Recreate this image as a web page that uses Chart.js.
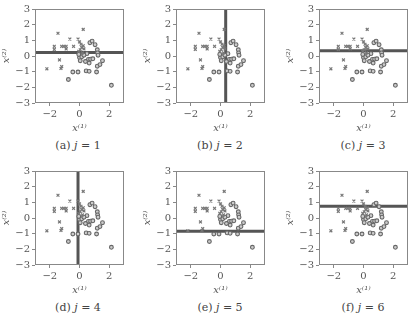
<!DOCTYPE html>
<html>
<head>
<meta charset="utf-8">
<script src="https://cdn.jsdelivr.net/npm/chart.js@4"></script>
<style>
  body { margin: 0; background: #fff; }
  #wrap { position: relative; width: 416px; height: 318px; overflow: hidden; }
  canvas { position: absolute; }
  .cap {
    position: absolute; width: 120px; margin-left: -60px; text-align: center;
    font: 11px "DejaVu Serif", serif; color: #444; line-height: 14px;
  }
</style>
</head>
<body>
<div id="wrap"></div>
<script>
// class "x" samples (crosses)
const crossX = [-2.2, -1.45, -1.7, -1.7, -1.35, -1.2, -1.25, -1.2, -1.05, -0.9, -0.9, -0.65, -0.4, -0.1, 0.0, 0.25, 0.1, 0.15, 0.05, 0.25, -0.05, 0.3, 0.2];
const crossY = [-0.82, 1.45, 0.62, 0.42, -0.25, -0.68, -0.8, 0.62, 0.62, 0.62, 0.45, 1.08, 0.62, 1.08, 0.9, 1.7, 0.75, 0.55, 0.4, 0.65, 0.3, 0.45, 0.2];
// class "o" samples (circles)
const circleX = [-0.75, -0.45, -0.1, 0.45, 0.65, 1.15, 2.15, 0.7, 0.85, 1.05, 1.2, 1.22, 1.25, 0.6, 0.75, 0.9, 1.55, 1.2, 1.38, 0.65, 0.5, 0.0, 0.05, 0.15, 0.3, -0.05, 0.4];
const circleY = [-1.5, -1.02, -1.02, -0.95, -0.98, -1.02, -1.87, 0.85, 0.95, 0.72, 0.4, 0.2, 0.05, -0.22, -0.2, -0.18, -0.3, -0.65, -0.55, -0.45, 0.15, -0.1, -0.3, -0.05, 0.05, 0.1, -0.35];

// decision stump per iteration j
const panelLabels = ["a", "b", "c", "d", "e", "f"];
const stumpAxis = ["h", "v", "h", "v", "h", "h"];
const stumpValue = [0.22, 0.35, 0.33, -0.1, -0.85, 0.75];

const xTicks = [-2, 0, 2];
const yTicks = [-3, -2, -1, 0, 1, 2, 3];
const axisMin = -3, axisMax = 3;

const textColor = "#555";
const fontFam = "'DejaVu Serif', serif";

// chart area top-left for each panel
const areaLeft = [35, 176, 319];
const areaTop = [9, 171];
const capX = [78, 220, 363];
const capY = [139, 301];

const boxPlugin = {
  id: "box",
  afterDraw(chart) {
    const a = chart.chartArea, ctx = chart.ctx;
    ctx.save();
    ctx.strokeStyle = "#888";
    ctx.lineWidth = 1;
    ctx.strokeRect(a.left + 0.5, a.top + 0.5, a.width - 1, a.height - 1);
    ctx.restore();
  }
};

function fmt(v) {
  return v < 0 ? "\u2212" + Math.abs(v) : String(v);
}

function makePanel(i) {
  const col = i % 3, row = Math.floor(i / 3);
  const canvas = document.createElement("canvas");
  canvas.width = 130;
  canvas.height = 135;
  canvas.style.left = (areaLeft[col] - 35) + "px";
  canvas.style.top = (areaTop[row] - 9) + "px";
  document.getElementById("wrap").appendChild(canvas);

  const cap = document.createElement("div");
  cap.className = "cap";
  cap.style.left = capX[col] + "px";
  cap.style.top = capY[row] + "px";
  cap.innerHTML = "(" + panelLabels[i] + ") <i>j</i> = " + (i + 1);
  document.getElementById("wrap").appendChild(cap);

  const v = stumpValue[i];
  const stump = stumpAxis[i] === "h"
    ? [{ x: axisMin, y: v }, { x: axisMax, y: v }]
    : [{ x: v, y: axisMin }, { x: v, y: axisMax }];

  new Chart(canvas.getContext("2d"), {
    type: "scatter",
    data: {
      datasets: [
        {
          data: crossX.map((x, k) => ({ x, y: crossY[k] })),
          pointStyle: "crossRot",
          pointRadius: 2,
          borderColor: "#777",
          borderWidth: 1.2,
        },
        {
          data: circleX.map((x, k) => ({ x, y: circleY[k] })),
          pointStyle: "circle",
          pointRadius: 1.9,
          borderColor: "#666",
          backgroundColor: "#ccc",
          borderWidth: 1.1,
        },
        {
          type: "line",
          data: stump,
          borderColor: "#555",
          borderWidth: 3,
          pointRadius: 0,
        },
      ],
    },
    options: {
      responsive: false,
      animation: false,
      layout: { padding: { top: 9, right: 6, left: 0, bottom: 0 } },
      plugins: { legend: { display: false }, tooltip: { enabled: false } },
      scales: {
        x: {
          type: "linear",
          min: axisMin,
          max: axisMax,
          afterBuildTicks: (s) => { s.ticks = xTicks.map((t) => ({ value: t })); },
          afterFit: (s) => { s.height = 32; },
          grid: { drawOnChartArea: false, tickLength: 3, color: "#888" },
          border: { display: false },
          ticks: { color: textColor, font: { family: fontFam, size: 10 }, padding: 2, autoSkip: false, maxRotation: 0, callback: fmt },
          title: {
            display: true, text: "x\u207D\u00B9\u207E", color: textColor,
            font: { family: fontFam, size: 10, style: "italic" }, padding: 1,
          },
        },
        y: {
          type: "linear",
          min: axisMin,
          max: axisMax,
          afterBuildTicks: (s) => { s.ticks = yTicks.map((t) => ({ value: t })); },
          afterFit: (s) => { s.width = 35; },
          grid: { drawOnChartArea: false, tickLength: 3, color: "#888" },
          border: { display: false },
          ticks: { color: textColor, font: { family: fontFam, size: 10 }, padding: 2, stepSize: 1, maxTicksLimit: 20, autoSkip: false, callback: fmt },
          title: {
            display: true, text: "x\u207D\u00B2\u207E", color: textColor,
            font: { family: fontFam, size: 10, style: "italic" }, padding: 0,
          },
        },
      },
    },
    plugins: [boxPlugin],
  });
}

for (let i = 0; i < 6; i++) makePanel(i);
</script>
</body>
</html>
